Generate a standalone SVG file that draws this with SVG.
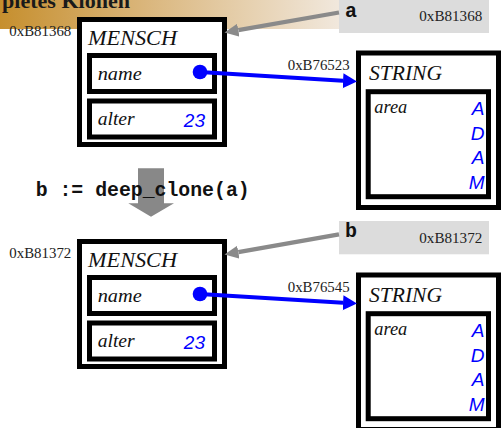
<svg xmlns="http://www.w3.org/2000/svg" width="501" height="428" viewBox="0 0 501 428">
<defs>
<linearGradient id="band" x1="0" y1="0" x2="1" y2="0">
<stop offset="0" stop-color="#c68f2e"/>
<stop offset="0.45" stop-color="#dbb880"/>
<stop offset="1" stop-color="#f1e8dd"/>
</linearGradient>
<marker id="ahGray" markerUnits="userSpaceOnUse" markerWidth="16" markerHeight="14" refX="0" refY="6.5" orient="auto">
<path d="M0,0 L14,6.5 L0,13 z" fill="#8a8a8a"/>
</marker>
<marker id="ahBlue" markerUnits="userSpaceOnUse" markerWidth="16" markerHeight="16" refX="0" refY="7.5" orient="auto">
<path d="M0,0 L14,7.5 L0,15 z" fill="#0000ff"/>
</marker>
</defs>
<style>
.box{fill:#fff;stroke:#000;stroke-width:5}
.addr{font-family:"Liberation Serif",serif;font-size:14px;fill:#222}
.cls{font-family:"Liberation Serif",serif;font-style:italic;font-size:20px;fill:#111}
.fld{font-family:"Liberation Serif",serif;font-style:italic;font-size:19px;fill:#111}
.val{font-family:"Liberation Sans",sans-serif;font-style:italic;font-size:19px;fill:#0000ff}
.code{font-family:"Liberation Mono",monospace;font-weight:bold;font-size:20px;fill:#111}
.var{fill:#dcdcdc}
.gl{stroke:#8a8a8a;stroke-width:4.3;fill:none}
.bl{stroke:#0000ff;stroke-width:4;fill:none}
</style>

<g id="banner">
<rect x="0" y="0" width="340" height="29" fill="url(#band)"/>
<text x="2" y="8" font-family="Liberation Serif, serif" font-weight="bold" font-size="20" fill="#1a1a1a" textLength="128" lengthAdjust="spacingAndGlyphs">pletes Klonen</text>
</g>

<g id="var-a">
<rect class="var" x="339" y="-1" width="150" height="34"/>
<text class="code" x="345" y="16.7" font-size="19">a</text>
<text class="addr" x="419.3" y="20.7" textLength="63" lengthAdjust="spacingAndGlyphs">0xB81368</text>
</g>

<g id="mensch-a">
<text class="addr" x="9.3" y="35.7" textLength="62" lengthAdjust="spacingAndGlyphs">0xB81368</text>
<rect class="box" x="79.5" y="19.5" width="145" height="125"/>
<text class="cls" x="88" y="45" textLength="89" lengthAdjust="spacingAndGlyphs">MENSCH</text>
<rect class="box" x="89.5" y="55.5" width="125" height="36"/>
<text class="fld" x="97.7" y="80" textLength="44" lengthAdjust="spacingAndGlyphs">name</text>
<rect class="box" x="89.5" y="101" width="125" height="36"/>
<text class="fld" x="97.7" y="125" textLength="37" lengthAdjust="spacingAndGlyphs">alter</text>
<text class="val" x="205" y="126.5" text-anchor="end">23</text>
<circle cx="200" cy="72" r="7.3" fill="#0000ff"/>
</g>

<g id="string-a">
<text class="addr" x="287.7" y="70" textLength="62" lengthAdjust="spacingAndGlyphs">0xB76523</text>
<rect class="box" x="358.5" y="53" width="140" height="154.5"/>
<text class="cls" x="369" y="80" textLength="73" lengthAdjust="spacingAndGlyphs">STRING</text>
<rect class="box" x="368.2" y="91.7" width="120.3" height="105"/>
<text class="fld" x="374.3" y="113.3" font-size="17" textLength="33" lengthAdjust="spacingAndGlyphs">area</text>
<text class="val" x="484.5" y="115" text-anchor="end">A</text>
<text class="val" x="484.5" y="140" text-anchor="end">D</text>
<text class="val" x="484.5" y="164.3" text-anchor="end">A</text>
<text class="val" x="484.5" y="189" text-anchor="end">M</text>
</g>

<g id="clone-op">
<polygon points="138,168.3 164,168.3 164,203.3 174,203.3 151,216.7 128.3,203.3 138,203.3" fill="#888"/>
<text class="code" x="35.7" y="195.5" textLength="214" lengthAdjust="spacingAndGlyphs">b := deep_clone(a)</text>
</g>

<g id="var-b">
<rect class="var" x="339" y="221" width="150" height="33.3"/>
<text class="code" x="345" y="236.7" font-size="19">b</text>
<text class="addr" x="419.3" y="242.7" textLength="63" lengthAdjust="spacingAndGlyphs">0xB81372</text>
</g>

<g id="mensch-b">
<text class="addr" x="9.3" y="257.5" textLength="62" lengthAdjust="spacingAndGlyphs">0xB81372</text>
<rect class="box" x="79.5" y="241.5" width="145" height="125"/>
<text class="cls" x="88" y="267" textLength="89" lengthAdjust="spacingAndGlyphs">MENSCH</text>
<rect class="box" x="89.5" y="277.5" width="125" height="36"/>
<text class="fld" x="97.7" y="302" textLength="44" lengthAdjust="spacingAndGlyphs">name</text>
<rect class="box" x="89.5" y="323" width="125" height="36"/>
<text class="fld" x="97.7" y="347" textLength="37" lengthAdjust="spacingAndGlyphs">alter</text>
<text class="val" x="205" y="348.5" text-anchor="end">23</text>
<circle cx="200" cy="294" r="7.3" fill="#0000ff"/>
</g>

<g id="string-b">
<text class="addr" x="287.7" y="291.7" textLength="62" lengthAdjust="spacingAndGlyphs">0xB76545</text>
<rect class="box" x="358.5" y="275" width="140" height="154.5"/>
<text class="cls" x="369" y="302" textLength="73" lengthAdjust="spacingAndGlyphs">STRING</text>
<rect class="box" x="368.2" y="313.7" width="120.3" height="105"/>
<text class="fld" x="374.3" y="335.3" font-size="17" textLength="33" lengthAdjust="spacingAndGlyphs">area</text>
<text class="val" x="484.5" y="337" text-anchor="end">A</text>
<text class="val" x="484.5" y="362" text-anchor="end">D</text>
<text class="val" x="484.5" y="386.3" text-anchor="end">A</text>
<text class="val" x="484.5" y="411" text-anchor="end">M</text>
</g>

<g id="connectors">
<line class="gl" x1="339" y1="12.5" x2="238.3" y2="30.1" marker-end="url(#ahGray)"/>
<line class="gl" x1="339" y1="234.3" x2="238.3" y2="252.1" marker-end="url(#ahGray)"/>
<line class="bl" x1="200" y1="72" x2="343" y2="80.7" marker-end="url(#ahBlue)"/>
<line class="bl" x1="200" y1="294" x2="343" y2="302.7" marker-end="url(#ahBlue)"/>
</g>
</svg>
